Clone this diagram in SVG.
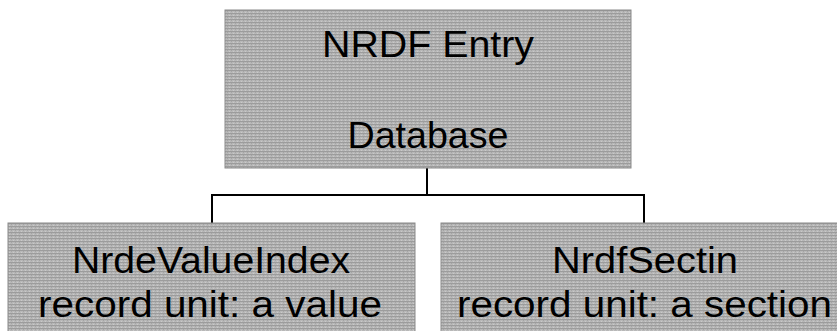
<svg xmlns="http://www.w3.org/2000/svg" width="837" height="331" viewBox="0 0 837 331">
  <defs>
    <pattern id="tex" width="4" height="3" patternUnits="userSpaceOnUse">
      <rect width="4" height="3" fill="#b8b8b8"/>
      <rect y="1" width="4" height="1" fill="#9c9c9c"/>
      <rect x="1" width="1" height="1" fill="#cacaca"/>
      <rect x="3" y="2" width="1" height="1" fill="#a4a4a4"/>
    </pattern>
  </defs>
  <style>
    .box { fill: url(#tex); stroke: #8a8a8a; stroke-width: 1; }
    .lbl { font-family: "Liberation Sans", Arial, sans-serif; font-size: 36px; fill: #000; text-anchor: middle; }
    .conn { fill: none; stroke: #000; stroke-width: 2; }
  </style>
  <rect width="837" height="331" fill="#fff"/>
  <g id="connectors">
    <path class="conn" d="M427 168 V195 M212 223 V195 H644 V223"/>
  </g>
  <g id="node-root">
    <rect class="box" x="225" y="10" width="406" height="158"/>
    <text class="lbl" x="428" y="57" textLength="212" lengthAdjust="spacingAndGlyphs">NRDF Entry</text>
    <text class="lbl" x="428" y="148" textLength="161" lengthAdjust="spacingAndGlyphs">Database</text>
  </g>
  <g id="node-value-index">
    <rect class="box" x="8" y="223" width="407" height="112"/>
    <text class="lbl" x="211" y="273" textLength="278" lengthAdjust="spacingAndGlyphs">NrdeValueIndex</text>
    <text class="lbl" x="210" y="317" textLength="344" lengthAdjust="spacingAndGlyphs">record unit: a value</text>
  </g>
  <g id="node-section">
    <rect class="box" x="441" y="223" width="406" height="112"/>
    <text class="lbl" x="645" y="273" textLength="186" lengthAdjust="spacingAndGlyphs">NrdfSectin</text>
    <text class="lbl" x="644.5" y="317" textLength="375" lengthAdjust="spacingAndGlyphs">record unit: a section</text>
  </g>
</svg>
